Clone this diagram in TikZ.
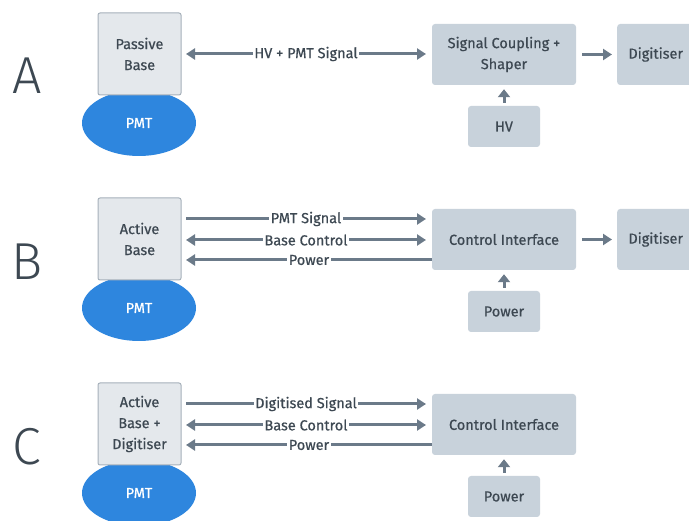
\documentclass[tikz,border=0pt]{standalone}
\usepackage{fontspec}
\setmainfont{Fira Sans}[FakeBold=0.6,BoldFont={Fira Sans Medium}]
\newfontfamily\lightfont{Fira Sans Light}
\usetikzlibrary{shapes.geometric,arrows.meta}
\definecolor{txt}{HTML}{3D4852}
\definecolor{arr}{HTML}{6B7A89}
\definecolor{boxf}{HTML}{C8D2DB}
\definecolor{basef}{HTML}{E4E8EC}
\definecolor{based}{HTML}{A6B0BA}
\definecolor{pmtc}{HTML}{2E86DE}
\tikzset{
  base/.style={draw=based, line width=1pt, fill=basef, rounded corners=2pt, minimum width=83pt, minimum height=82pt, text=txt, align=center, font=\fontsize{14.5}{21}\selectfont, inner sep=0pt},
  blk/.style={fill=boxf, rounded corners=3pt, text=txt, align=center, font=\fontsize{14.5}{21}\selectfont, inner sep=0pt},
  pmt/.style={ellipse, fill=pmtc, minimum width=114pt, minimum height=66pt, text=white, font=\fontsize{14.5}{16}\selectfont, inner sep=0pt},
  letter/.style={text=txt, font=\lightfont\fontsize{52}{52}\selectfont, inner sep=0pt},
  conn/.style={draw=arr, line width=3pt, -{Triangle[length=9pt,width=11pt]}},
  conn2/.style={draw=arr, line width=3pt, {Triangle[length=9pt,width=11pt]}-{Triangle[length=9pt,width=11pt]}},
  upconn/.style={draw=arr, line width=3pt, -{Triangle[length=8pt,width=12pt]}},
  lab/.style={fill=white, text=txt, font=\fontsize{14.5}{16}\selectfont, inner sep=1.5pt}
}
\begin{document}
\begin{tikzpicture}[x=1pt,y=-1pt]
\useasboundingbox (0,0) rectangle (689,521);
% ---------- A ----------
\node[letter] (la) at (27,76) {A};
\node[pmt] (pmta) at (139,123) {\raisebox{-3pt}{PMT}};
\node[base, minimum height=82pt] (basea) at (139.5,54) {Passive\\Base};
\node[blk, minimum width=144pt, minimum height=61pt] (sca) at (504,54.5) {Signal Coupling +\\Shaper};
\node[blk, minimum width=80pt, minimum height=61pt, anchor=west] (diga) at (617,54.5) {\hspace*{-3pt}Digitiser};
\node[blk, minimum width=72pt, minimum height=41pt] (hva) at (504,126.5) {HV};
\coordinate (a1) at (186,54); \coordinate (a2) at (426,54);
\draw[conn2] (a1) -- node[lab] {HV + PMT Signal} (a2);
\draw[conn] ([xshift=6pt]sca.east) -- ([xshift=-5pt]diga.west);
\draw[upconn] ([yshift=3pt]hva.north) -- ([yshift=-4pt]sca.south);
% ---------- B ----------
\node[letter] (lb) at (27,262) {B};
\node[pmt] (pmtb) at (139,308) {\raisebox{-3pt}{PMT}};
\node[base] (baseb) at (139.5,239) {Active\\Base};
\node[blk, minimum width=144pt, minimum height=61pt] (cib) at (504,239.5) {Control Interface};
\node[blk, minimum width=80pt, minimum height=61pt, anchor=west] (digb) at (617,239.5) {\hspace*{-3pt}Digitiser};
\node[blk, minimum width=72pt, minimum height=41pt] (pwb) at (504,311.5) {Power};
\coordinate (b1l) at (186,219); \coordinate (b1r) at (426,219);
\coordinate (b2l) at (186,240); \coordinate (b2r) at (426,240);
\coordinate (b3l) at (186,260); \coordinate (b3r) at (432,260);
\draw[conn] (b1l) -- node[lab] {PMT Signal} (b1r);
\draw[conn2] (b2l) -- node[lab] {Base Control} (b2r);
\draw[conn] (b3r) -- node[lab] {Power} (b3l);
\draw[conn] ([xshift=6pt]cib.east) -- ([xshift=-5pt]digb.west);
\draw[upconn] ([yshift=3pt]pwb.north) -- ([yshift=-4pt]cib.south);
% ---------- C ----------
\node[letter] (lc) at (27,447) {C};
\node[pmt] (pmtc) at (139,493) {\raisebox{-3pt}{PMT}};
\node[base] (basec) at (139.5,424) {Active\\Base +\\Digitiser};
\node[blk, minimum width=144pt, minimum height=61pt] (cic) at (504,424.5) {Control Interface};
\node[blk, minimum width=72pt, minimum height=41pt] (pwc) at (504,496.5) {Power};
\coordinate (c1l) at (186,404); \coordinate (c1r) at (426,404);
\coordinate (c2l) at (186,425); \coordinate (c2r) at (426,425);
\coordinate (c3l) at (186,445); \coordinate (c3r) at (432,445);
\draw[conn] (c1l) -- node[lab] {Digitised Signal} (c1r);
\draw[conn2] (c2l) -- node[lab] {Base Control} (c2r);
\draw[conn] (c3r) -- node[lab] {Power} (c3l);
\draw[upconn] ([yshift=3pt]pwc.north) -- ([yshift=-4pt]cic.south);
\end{tikzpicture}
\end{document}
